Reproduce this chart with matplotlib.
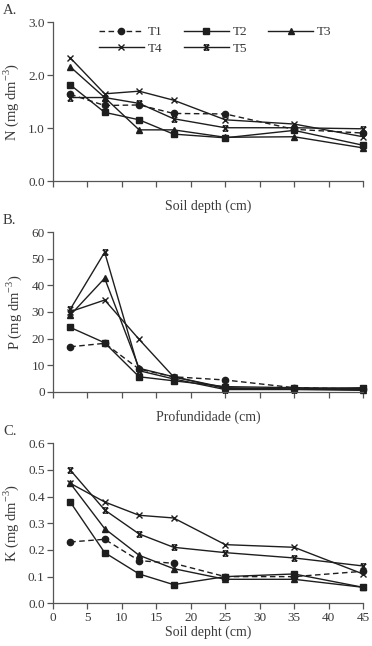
import numpy as np
import matplotlib
matplotlib.use("Agg")
import matplotlib.pyplot as plt
from matplotlib.path import Path

plt.rcParams['font.family'] = ['Liberation Serif', 'DejaVu Serif']
plt.rcParams['mathtext.fontset'] = 'custom'
plt.rcParams['mathtext.rm'] = 'Liberation Serif'

depth = [2.5, 7.5, 12.5, 17.5, 25, 35, 45]
names = ["T1", "T2", "T3", "T4", "T5"]

# N (mg dm-3)
N_T1 = [1.64, 1.43, 1.44, 1.28, 1.27, 0.98, 0.91]
N_T2 = [1.82, 1.30, 1.16, 0.89, 0.82, 0.96, 0.68]
N_T3 = [2.16, 1.58, 0.97, 0.97, 0.83, 0.84, 0.63]
N_T4 = [2.33, 1.65, 1.70, 1.53, 1.16, 1.08, 0.84]
N_T5 = [1.58, 1.58, 1.47, 1.18, 1.01, 1.01, 0.99]

# P (mg dm-3)
P_T1 = [16.9, 18.2, 8.5, 5.6, 4.4, 1.5, 1.0]
P_T2 = [24.2, 18.4, 5.6, 4.1, 1.9, 1.5, 1.2]
P_T3 = [28.8, 42.7, 8.8, 5.6, 1.2, 1.0, 0.8]
P_T4 = [30.1, 34.5, 19.7, 5.6, 1.5, 1.0, 1.5]
P_T5 = [31.0, 52.5, 7.9, 4.8, 0.8, 0.8, 0.5]

# K (mg dm-3)
K_T1 = [0.23, 0.24, 0.16, 0.15, 0.10, 0.10, 0.12]
K_T2 = [0.38, 0.19, 0.11, 0.07, 0.10, 0.11, 0.06]
K_T3 = [0.45, 0.28, 0.18, 0.13, 0.09, 0.09, 0.06]
K_T4 = [0.45, 0.38, 0.33, 0.32, 0.22, 0.21, 0.11]
K_T5 = [0.50, 0.35, 0.26, 0.21, 0.19, 0.17, 0.14]

# x with bars (excel-like star)
star = Path([(-1, -1), (1, 1), (-1, 1), (1, -1), (-1, 1), (1, 1), (-1, -1), (1, -1)],
            [Path.MOVETO, Path.LINETO, Path.MOVETO, Path.LINETO,
             Path.MOVETO, Path.LINETO, Path.MOVETO, Path.LINETO])

styles = [
    dict(ls=(0, (4, 2.5)), marker='o', ms=4.5),
    dict(ls='-', marker='s', ms=4.5),
    dict(ls='-', marker='^', ms=5),
    dict(ls='-', marker='x', ms=4.5, mew=1.0),
    dict(ls='-', marker=star, ms=3.8, mew=1.0),
]

lc = '#1e1e1e'
gc = '#555555'
tc = '#3a3a3a'

fig = plt.figure(figsize=(3.72, 6.46), dpi=100)
L, W = 53/372, 310/372
axA = fig.add_axes([L, 0.7194, W, 0.2461])
axB = fig.add_axes([L, 0.3937, W, 0.2467])
axC = fig.add_axes([L, 0.0661, W, 0.2477])

panels = [
    (axA, [N_T1, N_T2, N_T3, N_T4, N_T5], (0, 3.0), np.arange(0, 3.01, 1.0), "%.1f",
     r"N (mg dm$^{\mathregular{-3}}$)", "Soil depth (cm)", "A."),
    (axB, [P_T1, P_T2, P_T3, P_T4, P_T5], (0, 60), np.arange(0, 61, 10), "%d",
     r"P (mg dm$^{\mathregular{-3}}$)", "Profundidade (cm)", "B."),
    (axC, [K_T1, K_T2, K_T3, K_T4, K_T5], (0, 0.6), np.arange(0, 0.61, 0.1), "%.1f",
     r"K (mg dm$^{\mathregular{-3}}$)", "Soil depht (cm)", "C."),
]

for ax, series, ylim, yt, fmt, ylab, xlab, tag in panels:
    for name, vals, st in zip(names, series, styles):
        ax.plot(depth, vals, color=lc, lw=1.0, mfc=lc, mec=lc, label=name,
                clip_on=False, **st)
    ax.set_xlim(0, 45)
    ax.set_ylim(*ylim)
    ax.set_xticks(np.arange(0, 46, 5))
    ax.set_yticks(yt)
    ax.set_yticklabels([fmt % v for v in yt])
    for s in ['top', 'right']:
        ax.spines[s].set_visible(False)
    for s in ['left', 'bottom']:
        ax.spines[s].set_color(gc)
        ax.spines[s].set_linewidth(0.9)
    ax.tick_params(direction='out', length=4, width=0.9, color=gc,
                   labelsize=9.5, labelcolor=tc, pad=2)
    ax.set_ylabel(ylab, fontsize=10.5, color=tc, labelpad=5)
    ax.set_xlabel(xlab, fontsize=10, color=tc, labelpad=7 if ax is not axC else 1.5)
    pos = ax.get_position()
    fig.text(0.008, pos.y1 + 0.018, tag, fontsize=10.5, color=tc, va='center', ha='left')

axA.set_xticklabels([])
axB.set_xticklabels([])

# legend filled row by row: T1 T2 T3 / T4 T5
h, l = axA.get_legend_handles_labels()
order = [0, 3, 1, 4, 2]
axA.legend([h[i] for i in order], [l[i] for i in order],
           loc='upper left', bbox_to_anchor=(0.11, 1.05), ncol=3, frameon=False,
           fontsize=9.5, handlelength=3.4, columnspacing=1.6, handletextpad=0.3,
           labelspacing=0.3, labelcolor=tc)

fig.savefig("out.png", dpi=100)
